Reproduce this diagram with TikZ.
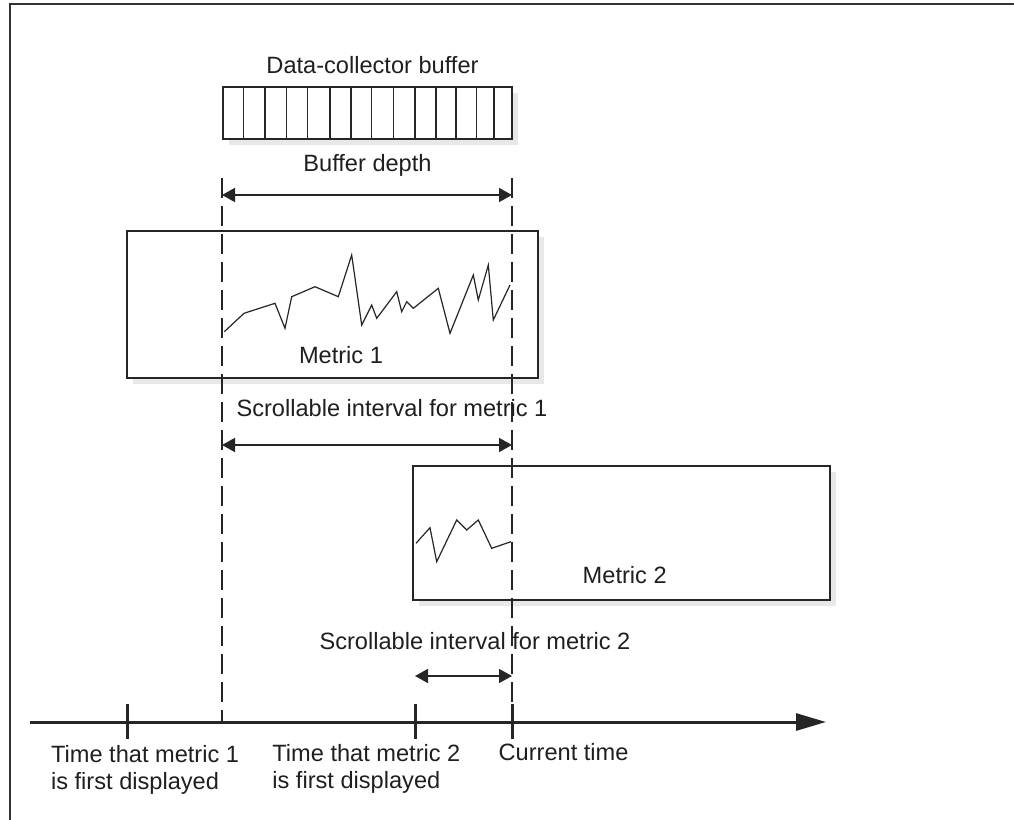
\documentclass[tikz,border=0pt]{standalone}
\usepackage{fontspec}
\setmainfont{Liberation Sans}
\usetikzlibrary{arrows.meta,shadows}
\begin{document}
\begin{tikzpicture}[x=0.5pt,y=-0.5pt,
  lbl/.style={font=\fontsize{11.8}{13.5}\selectfont, inner sep=0pt, text=black!88},
  panel/.style={draw=black!85, line width=1pt, fill=white, inner sep=0pt,
    drop shadow={shadow xshift=3pt, shadow yshift=-3pt, fill=black!9, opacity=1}},
  guide/.style={line width=0.6pt, black!85, dash pattern=on 10pt off 4pt},
  dimarrow/.style={line width=0.8pt, black!85, {Triangle[length=6.5pt,width=7pt]}-{Triangle[length=6.5pt,width=7pt]}},
  timeaxis/.style={line width=1.5pt, black!85, -{Triangle[length=15pt,width=8.5pt]}},
  tickmark/.style={line width=1.5pt, black!85},
  trace/.style={line width=0.6pt, black!85, line join=miter},
  cell/.style={line width=0.6pt, black!85}
]
\useasboundingbox (0,0) rectangle (1014,820);
% frame
\draw[line width=0.7pt, black!80] (10,820) -- (10,4) -- (1014,4);

% boxes
\node[panel, minimum width=144.5pt, minimum height=26.2pt] (buf) at (367.2,112.9) {};
\node[panel, minimum width=205.5pt, minimum height=73.5pt] (m1box) at (332.5,304.5) {};
\node[panel, minimum width=208.5pt, minimum height=67pt] (m2box) at (621.5,533) {};

% buffer cells
\foreach \x in {243.3,265,286.7,307.7,330,351,371.7,393.3,415,436,456,476.7,494}
  \draw[cell] (\x,86.7) -- (\x,139);

% traces
\draw[trace] (224.3,331.7) -- (244,313.3) -- (275,303.3) -- (285,328.3) -- (291.7,296.7)
  -- (315,286.7) -- (338.3,296.7) -- (351.7,255) -- (361.7,325) -- (371.7,305)
  -- (376.7,318.3) -- (396.7,291.7) -- (401.7,311.7) -- (406.7,301.7) -- (413.3,308.3)
  -- (438.3,288.3) -- (450,333.3) -- (473.3,275) -- (478.3,300) -- (488.3,265)
  -- (493.3,320) -- (510,285);
\draw[trace] (416,543.3) -- (430,527.7) -- (436.7,561.7) -- (456.7,520) -- (466.7,530)
  -- (478.3,520) -- (491.7,548.3) -- (511,541.7);

% guide lines
\coordinate (gtop1) at (222,178);
\coordinate (gtop2) at (512,178);
\coordinate (tbuf) at (222,722);
\coordinate (tnow) at (512,722);
\draw[guide] (gtop1) -- (tbuf);
\draw[guide] (gtop2) -- (tnow);

% time axis and ticks
\coordinate (axstart) at (30,722);
\coordinate (axend) at (826,722);
\coordinate (t1) at (127,722);
\coordinate (t2) at (415,722);
\draw[timeaxis] (axstart) -- (axend);
\foreach \c in {t1,t2,tnow}
  \draw[tickmark] ([yshift=9pt]\c) -- ([yshift=-8.5pt]\c);

% dimension arrows
\coordinate (bd1) at (222,195);
\coordinate (bd2) at (512,195);
\coordinate (s11) at (222,445);
\coordinate (s12) at (512,445);
\coordinate (s21) at (415,676);
\coordinate (s22) at (512,676);
\draw[dimarrow] (bd1) -- (bd2);
\draw[dimarrow] (s11) -- (s12);
\draw[dimarrow] (s21) -- (s22);

% labels
\node[lbl, anchor=base] (lbuf) at (372.5,73) {Data-collector buffer};
\node[lbl, anchor=base] (ldepth) at (367.5,171.5) {Buffer depth};
\node[lbl, anchor=base] (lm1) at (341,363) {Metric 1};
\node[lbl, anchor=base] (ls1) at (392,416.5) {Scrollable interval for metric 1};
\node[lbl, anchor=base] (lm2) at (624.7,583) {Metric 2};
\node[lbl, anchor=base] (ls2) at (475,649) {Scrollable interval for metric 2};
\node[lbl, anchor=base west, align=left] (lt1) at (50.7,789) {Time that metric 1\\is first displayed};
\node[lbl, anchor=base west, align=left] (lt2) at (272,788) {Time that metric 2\\is first displayed};
\node[lbl, anchor=base west] (lnow) at (498.3,760) {Current time};
\end{tikzpicture}
\end{document}
